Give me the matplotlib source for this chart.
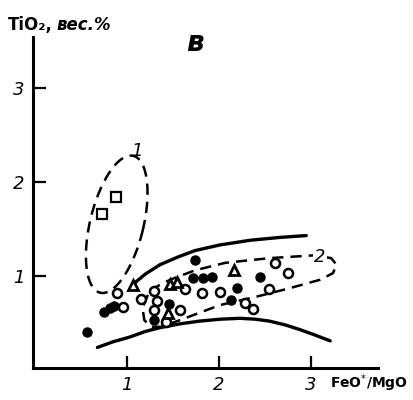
import matplotlib
matplotlib.use("Agg")
import matplotlib.pyplot as plt
import numpy as np

plt.rcParams['font.family'] = ['DejaVu Sans']

# точки (FeO*/MgO, TiO2)
fill_x = [0.565, 0.75, 0.815, 0.86, 1.29, 1.46, 1.74, 1.72, 1.83, 1.93, 2.20, 2.13, 2.45]
fill_y = [0.404, 0.617, 0.66, 0.68, 0.53, 0.70, 1.17, 0.98, 0.98, 0.99, 0.87, 0.74, 0.99]
open_x = [0.89, 0.96, 1.15, 1.30, 1.33, 1.30, 1.43, 1.58, 1.63, 1.82, 2.01, 2.55, 2.61, 2.75, 2.28, 2.37]
open_y = [0.82, 0.67, 0.76, 0.84, 0.73, 0.64, 0.51, 0.64, 0.86, 0.82, 0.83, 0.86, 1.14, 1.03, 0.71, 0.65]
tri_x = [1.07, 1.45, 1.47, 1.54, 2.16]
tri_y = [0.90, 0.61, 0.91, 0.94, 1.06]
sq_x = [0.73, 0.88]
sq_y = [1.66, 1.84]

# огибающие
upper_x = [1.09, 1.20, 1.36, 1.55, 1.74, 2.01, 2.34, 2.66, 2.95]
upper_y = [0.93, 1.02, 1.12, 1.20, 1.27, 1.33, 1.38, 1.41, 1.43]
lower_x = [0.68, 0.85, 1.03, 1.20, 1.36, 1.57, 1.79, 2.01, 2.23, 2.40, 2.55, 2.72, 2.88, 3.05, 3.21]
lower_y = [0.24, 0.30, 0.35, 0.41, 0.45, 0.49, 0.52, 0.54, 0.55, 0.54, 0.52, 0.48, 0.43, 0.37, 0.31]

# поле 2
f2_x = [1.25, 1.47, 1.74, 2.07, 2.55, 3.04, 3.22, 3.28, 3.24, 3.10, 2.77, 2.45, 2.01, 1.63, 1.38, 1.27, 1.19, 1.17, 1.25]
f2_y = [0.85, 0.96, 1.06, 1.14, 1.19, 1.22, 1.19, 1.12, 1.03, 0.96, 0.87, 0.79, 0.69, 0.55, 0.46, 0.46, 0.53, 0.66, 0.85]

# поле 1 (эллипс)
e_cx, e_cy, e_a, e_b, e_ang = 0.89, 1.55, 0.75, 0.29, 14

xticks = [1, 2, 3]
yticks = [1, 2, 3]

fig = plt.figure(figsize=(4.13, 4.0), dpi=100)
ax = fig.add_axes([0.0799, 0.0797, 0.8354, 0.8273])
ax.set_xlim(-0.02, 3.73)
ax.set_ylim(0.02, 3.54)

for s in ['top', 'right']:
    ax.spines[s].set_visible(False)
for s in ['left', 'bottom']:
    ax.spines[s].set_linewidth(2.2)

ax.set_xticks(xticks)
ax.set_yticks(yticks)
ax.set_xticklabels([str(t) for t in xticks], fontsize=13, style='italic')
ax.set_yticklabels([str(t) for t in yticks], fontsize=13, style='italic')
ax.tick_params(direction='in', length=9, width=1.6, pad=6)

# эллипс 1
t = np.linspace(0, 2 * np.pi, 200)
th = np.deg2rad(e_ang)
ex = e_b * np.cos(t)
ey = e_a * np.sin(t)
ax.plot(e_cx + ex * np.cos(th) + ey * np.sin(th),
        e_cy - ex * np.sin(th) + ey * np.cos(th),
        color='black', lw=1.8, ls=(0, (4.5, 2.8)))

ax.plot(f2_x, f2_y, color='black', lw=1.8, ls=(0, (4.5, 2.8)))
ax.plot(upper_x, upper_y, color='black', lw=2.4, solid_capstyle='round')
ax.plot(lower_x, lower_y, color='black', lw=2.4, solid_capstyle='round')

ax.plot(fill_x, fill_y, 'o', ms=6.5, color='black')
ax.plot(open_x, open_y, 'o', ms=6.5, mfc='white', mec='black', mew=1.8)
ax.plot(tri_x, tri_y, '^', ms=7, mfc='white', mec='black', mew=2.0)
ax.plot(sq_x, sq_y, 's', ms=7, mfc='white', mec='black', mew=1.6)

ax.text(1.11, 2.33, '1', fontsize=13, style='italic', ha='center', va='center')
ax.text(3.10, 1.20, '2', fontsize=13, style='italic', ha='center', va='center',
        bbox=dict(facecolor='white', edgecolor='none', pad=1))

fig.text(8 / 413, 1 - 30 / 400, 'TiO\u2082,', fontsize=12, weight='bold', va='baseline')
fig.text(56 / 413, 1 - 30 / 400, 'вес.%', fontsize=12, weight='bold', style='italic', va='baseline')
fig.text(195 / 413, 1 - 43 / 400, 'в', fontsize=20, weight='bold', style='italic', ha='center', va='center')
fig.text(330 / 413, 1 - 383 / 400, 'FeO$^{*}$/MgO', fontsize=10, weight='bold', va='center')

fig.savefig('out.png', dpi=100)
